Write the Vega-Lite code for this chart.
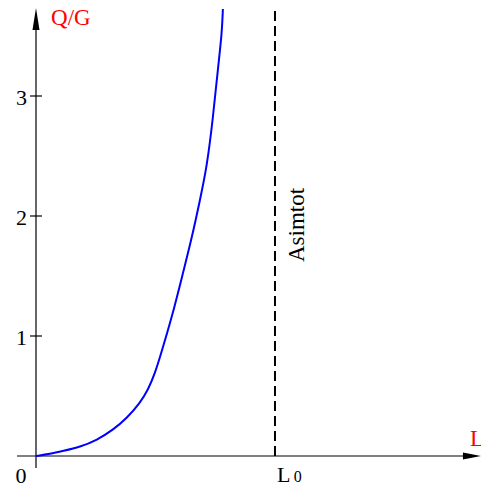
{
  "$schema": "https://vega.github.io/schema/vega-lite/v6.json",
  "width": 481,
  "height": 485,
  "padding": 0,
  "autosize": {"type": "none"},
  "background": "white",
  "config": {"view": {"stroke": null}, "text": {"font": "Liberation Serif", "fontSize": 22}},
  "datasets": {
    "curve": [
      {"L": 0, "QG": 0},
      {"L": 0.0586, "QG": 0.0167},
      {"L": 0.113, "QG": 0.0417},
      {"L": 0.184, "QG": 0.075},
      {"L": 0.255, "QG": 0.133},
      {"L": 0.322, "QG": 0.217},
      {"L": 0.381, "QG": 0.317},
      {"L": 0.435, "QG": 0.442},
      {"L": 0.469, "QG": 0.55},
      {"L": 0.498, "QG": 0.692},
      {"L": 0.519, "QG": 0.825},
      {"L": 0.569, "QG": 1.158},
      {"L": 0.615, "QG": 1.525},
      {"L": 0.653, "QG": 1.825},
      {"L": 0.686, "QG": 2.133},
      {"L": 0.715, "QG": 2.408},
      {"L": 0.741, "QG": 2.825},
      {"L": 0.762, "QG": 3.242},
      {"L": 0.778, "QG": 3.525},
      {"L": 0.782, "QG": 3.725}
    ],
    "axes": [
      {"x1": -0.0795, "x2": 1.83, "y1": 0, "y2": 0},
      {"x1": 0, "x2": 0, "y1": -0.1, "y2": 3.6}
    ],
    "ticks": [
      {"v": 1, "label": "1"},
      {"v": 2, "label": "2"},
      {"v": 3, "label": "3"}
    ],
    "asym": [{"x": 1, "y1": 0, "y2": 3.73}],
    "arrowX": [{"x": 1.824, "y": 0}],
    "arrowY": [{"x": 0, "y": 3.642}],
    "zeroText": [{"x": -0.063, "y": -0.083, "t": "0"}],
    "lText": [{"x": 1.008, "y": -0.075, "t": "L"}],
    "sub": [{"x": 1.079, "y": -0.112, "t": "0"}],
    "redText": [
      {"x": 0.063, "y": 3.742, "t": "Q/G"},
      {"x": 1.816, "y": 0.233, "t": "L"}
    ],
    "asText": [{"x": 1.092, "y": 1.925, "t": "Asimtot"}]
  },
  "layer": [
    {
      "data": {"name": "axes"},
      "mark": {"type": "rule", "color": "black", "strokeWidth": 1.2},
      "encoding": {
        "x": {"field": "x1", "type": "quantitative", "scale": {"domain": [-0.1506, 1.862], "nice": false, "zero": false}, "axis": null},
        "x2": {"field": "x2"},
        "y": {"field": "y1", "type": "quantitative", "scale": {"domain": [-0.2417, 3.8], "nice": false, "zero": false}, "axis": null},
        "y2": {"field": "y2"}
      }
    },
    {
      "data": {"name": "ticks"},
      "mark": {"type": "rule", "color": "black", "strokeWidth": 1.2},
      "encoding": {
        "x": {"datum": -0.025, "type": "quantitative"},
        "x2": {"datum": 0.025},
        "y": {"field": "v", "type": "quantitative"}
      }
    },
    {
      "data": {"name": "ticks"},
      "mark": {"type": "text", "align": "right", "baseline": "middle", "color": "black", "dy": 2},
      "encoding": {
        "x": {"datum": -0.0377, "type": "quantitative"},
        "y": {"field": "v", "type": "quantitative"},
        "text": {"field": "label"}
      }
    },
    {
      "data": {"name": "asym"},
      "mark": {"type": "rule", "color": "black", "strokeWidth": 2, "strokeDash": [10, 5]},
      "encoding": {
        "x": {"field": "x", "type": "quantitative"},
        "y": {"field": "y1", "type": "quantitative"},
        "y2": {"field": "y2"}
      }
    },
    {
      "data": {"name": "curve"},
      "mark": {"type": "line", "color": "#0000ff", "strokeWidth": 2, "interpolate": "basis"},
      "encoding": {
        "x": {"field": "L", "type": "quantitative"},
        "y": {"field": "QG", "type": "quantitative"}
      }
    },
    {
      "data": {"name": "arrowX"},
      "mark": {"type": "point", "filled": true, "color": "black", "opacity": 1, "shape": "M-1,-0.39L1,0L-1,0.39Z", "size": 324},
      "encoding": {
        "x": {"field": "x", "type": "quantitative"},
        "y": {"field": "y", "type": "quantitative"}
      }
    },
    {
      "data": {"name": "arrowY"},
      "mark": {"type": "point", "filled": true, "color": "black", "opacity": 1, "shape": "M0,-1L0.32,1L-0.32,1Z", "size": 484},
      "encoding": {
        "x": {"field": "x", "type": "quantitative"},
        "y": {"field": "y", "type": "quantitative"}
      }
    },
    {
      "data": {"name": "zeroText"},
      "mark": {"type": "text", "baseline": "top", "align": "center", "color": "black"},
      "encoding": {
        "x": {"field": "x", "type": "quantitative"},
        "y": {"field": "y", "type": "quantitative"},
        "text": {"field": "t"}
      }
    },
    {
      "data": {"name": "lText"},
      "mark": {"type": "text", "baseline": "top", "align": "left", "color": "black"},
      "encoding": {
        "x": {"field": "x", "type": "quantitative"},
        "y": {"field": "y", "type": "quantitative"},
        "text": {"field": "t"}
      }
    },
    {
      "data": {"name": "sub"},
      "mark": {"type": "text", "baseline": "top", "align": "left", "color": "black", "fontSize": 16},
      "encoding": {
        "x": {"field": "x", "type": "quantitative"},
        "y": {"field": "y", "type": "quantitative"},
        "text": {"field": "t"}
      }
    },
    {
      "data": {"name": "redText"},
      "mark": {"type": "text", "baseline": "top", "align": "left", "color": "#ff0000", "fontSize": 23},
      "encoding": {
        "x": {"field": "x", "type": "quantitative"},
        "y": {"field": "y", "type": "quantitative"},
        "text": {"field": "t"}
      }
    },
    {
      "data": {"name": "asText"},
      "mark": {"type": "text", "angle": 270, "align": "center", "baseline": "middle", "color": "black", "fontSize": 23},
      "encoding": {
        "x": {"field": "x", "type": "quantitative"},
        "y": {"field": "y", "type": "quantitative"},
        "text": {"field": "t"}
      }
    }
  ]
}
